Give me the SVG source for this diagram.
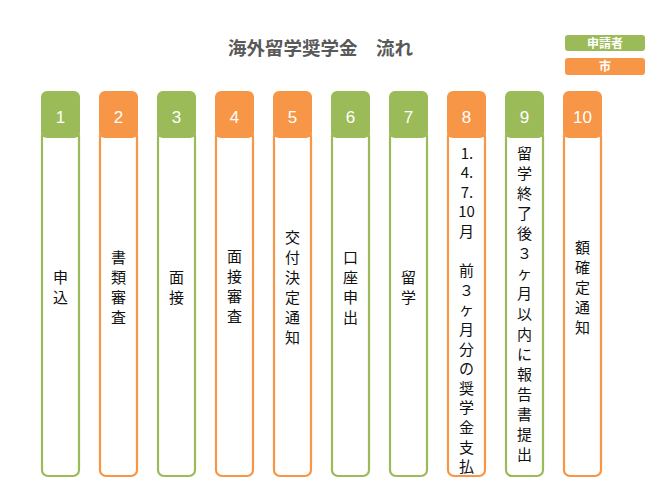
<svg xmlns="http://www.w3.org/2000/svg" width="657" height="494" viewBox="0 0 657 494">
<style>
.g{fill:#9BBB59}.o{fill:#F79646}
.bg{fill:#fff;stroke:#9BBB59;stroke-width:2.2}.bo{fill:#fff;stroke:#F79646;stroke-width:2.2}
.num{font-family:"Liberation Sans",Arial,sans-serif;font-size:17px;fill:#fff;text-anchor:middle}
.t{font-family:"Noto Sans CJK JP","Noto Sans",sans-serif;font-size:15px;fill:#111;text-anchor:middle}
.title{font-family:"Noto Sans CJK JP",sans-serif;font-size:18.5px;font-weight:bold;fill:#595959;text-anchor:middle}
.lg{font-family:"Noto Sans CJK JP",sans-serif;font-size:12px;font-weight:bold;fill:#fff;text-anchor:middle}
</style>
<rect width="657" height="494" fill="#fff"/>
<g id="title"><text class="title" x="320.5" y="55">海外留学奨学金　流れ</text></g>
<g id="legend">
<rect class="g" x="565" y="35" width="80" height="16" rx="3"/>
<text class="lg" x="605" y="47.5">申請者</text>
<rect class="o" x="565" y="58" width="80" height="17" rx="3"/>
<text class="lg" x="605" y="71">市</text>
</g>
<g id="connectors"></g>
<g id="n1"><rect class="bg" x="42" y="130" width="37" height="346" rx="6"/><rect class="g" x="41" y="91" width="39" height="47" rx="6"/><text class="num" x="60.5" y="123">1</text>
<text class="t" x="60.5" y="282.5">申</text><text class="t" x="60.5" y="302.5">込</text></g>
<g id="n2"><rect class="bo" x="100" y="130" width="37" height="346" rx="6"/><rect class="o" x="99" y="91" width="39" height="47" rx="6"/><text class="num" x="118.5" y="123">2</text>
<text class="t" x="118.5" y="262.5">書</text><text class="t" x="118.5" y="282.5">類</text><text class="t" x="118.5" y="302.5">審</text><text class="t" x="118.5" y="322.5">査</text></g>
<g id="n3"><rect class="bg" x="158" y="130" width="37" height="346" rx="6"/><rect class="g" x="157" y="91" width="39" height="47" rx="6"/><text class="num" x="176.5" y="123">3</text>
<text class="t" x="176.5" y="282.5">面</text><text class="t" x="176.5" y="302.5">接</text></g>
<g id="n4"><rect class="bo" x="216" y="130" width="37" height="346" rx="6"/><rect class="o" x="215" y="91" width="39" height="47" rx="6"/><text class="num" x="234.5" y="123">4</text>
<text class="t" x="234.5" y="261.5">面</text><text class="t" x="234.5" y="281.5">接</text><text class="t" x="234.5" y="301.5">審</text><text class="t" x="234.5" y="321.5">査</text></g>
<g id="n5"><rect class="bo" x="274" y="130" width="37" height="346" rx="6"/><rect class="o" x="273" y="91" width="39" height="47" rx="6"/><text class="num" x="292.5" y="123">5</text>
<text class="t" x="292.5" y="242.5">交</text><text class="t" x="292.5" y="262.5">付</text><text class="t" x="292.5" y="282.5">決</text><text class="t" x="292.5" y="302.5">定</text><text class="t" x="292.5" y="322.5">通</text><text class="t" x="292.5" y="342.5">知</text></g>
<g id="n6"><rect class="bg" x="332" y="130" width="37" height="346" rx="6"/><rect class="g" x="331" y="91" width="39" height="47" rx="6"/><text class="num" x="350.5" y="123">6</text>
<text class="t" x="350.5" y="262.5">口</text><text class="t" x="350.5" y="282.5">座</text><text class="t" x="350.5" y="302.5">申</text><text class="t" x="350.5" y="322.5">出</text></g>
<g id="n7"><rect class="bg" x="390" y="130" width="37" height="346" rx="6"/><rect class="g" x="389" y="91" width="39" height="47" rx="6"/><text class="num" x="408.5" y="123">7</text>
<text class="t" x="408.5" y="282.5">留</text><text class="t" x="408.5" y="302.5">学</text></g>
<g id="n8"><rect class="bo" x="448" y="130" width="37" height="346" rx="6"/><rect class="o" x="447" y="91" width="39" height="47" rx="6"/><text class="num" x="466.5" y="123">8</text>
<text class="t" x="467" y="158.5">1.</text><text class="t" x="467" y="178">4.</text><text class="t" x="467" y="197.5">7.</text><text class="t" x="466.5" y="217">10</text><text class="t" x="466.5" y="237">月</text>
<text class="t" x="466.5" y="276">前</text><text class="t" x="466.5" y="295.5">３</text><text class="t" x="466.5" y="315">ヶ</text><text class="t" x="466.5" y="335">月</text><text class="t" x="466.5" y="354.5">分</text><text class="t" x="466.5" y="374">の</text><text class="t" x="466.5" y="393.5">奨</text><text class="t" x="466.5" y="413">学</text><text class="t" x="466.5" y="433">金</text><text class="t" x="466.5" y="452.5">支</text><text class="t" x="466.5" y="472">払</text></g>
<g id="n9"><rect class="bg" x="506" y="130" width="37" height="346" rx="6"/><rect class="g" x="505" y="91" width="39" height="47" rx="6"/><text class="num" x="524.5" y="123">9</text>
<text class="t" x="524.5" y="158.5">留</text><text class="t" x="524.5" y="178.6">学</text><text class="t" x="524.5" y="198.8">終</text><text class="t" x="524.5" y="218.9">了</text><text class="t" x="524.5" y="239">後</text><text class="t" x="524.5" y="259.2">３</text><text class="t" x="524.5" y="279.3">ヶ</text><text class="t" x="524.5" y="299.4">月</text><text class="t" x="524.5" y="319.5">以</text><text class="t" x="524.5" y="339.7">内</text><text class="t" x="524.5" y="359.8">に</text><text class="t" x="524.5" y="379.9">報</text><text class="t" x="524.5" y="400">告</text><text class="t" x="524.5" y="420.2">書</text><text class="t" x="524.5" y="440.3">提</text><text class="t" x="524.5" y="460.4">出</text></g>
<g id="n10"><rect class="bo" x="564" y="130" width="37" height="346" rx="6"/><rect class="o" x="563" y="91" width="39" height="47" rx="6"/><text class="num" x="582.5" y="123">10</text>
<text class="t" x="582.5" y="252.5">額</text><text class="t" x="582.5" y="272.5">確</text><text class="t" x="582.5" y="292.5">定</text><text class="t" x="582.5" y="312.5">通</text><text class="t" x="582.5" y="332.5">知</text></g>
</svg>
